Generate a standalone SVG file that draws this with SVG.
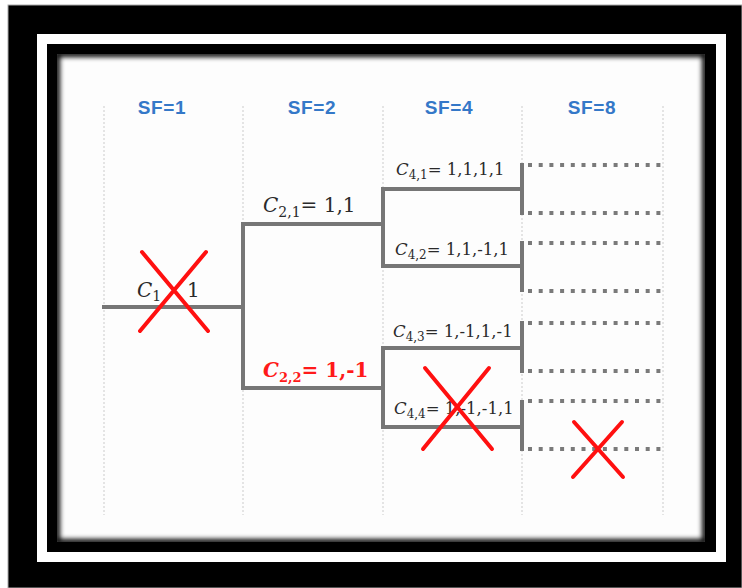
<svg xmlns="http://www.w3.org/2000/svg" width="742" height="588" viewBox="0 0 742 588">
  <defs>
    <style>
      .hdr { font-family: "Liberation Sans", Arial, sans-serif; font-weight: bold; font-size: 19px; fill: #3478c8; letter-spacing: 0.6px; text-anchor: middle; }
      .lbl { font-family: "DejaVu Serif", "Liberation Serif", serif; fill: #2a2a2a; }
      .big { font-size: 20px; }
      .small { font-size: 16.5px; }
      .red { fill: #ff1a1a; font-weight: bold; }
      .ital { font-style: italic; }
      .tree { fill: none; stroke: #767676; stroke-width: 4; stroke-linecap: square; stroke-linejoin: miter; }
      .dots { fill: none; stroke: #7a7a7a; stroke-width: 4; stroke-dasharray: 4 6.7; }
      .guide { fill: none; stroke: #dcdcdc; stroke-width: 1.5; stroke-dasharray: 2 2; }
      .cross { fill: none; stroke: #ff1010; stroke-width: 4; stroke-linecap: round; }
    </style>
    <clipPath id="panelClip">
      <rect x="57" y="54" width="648" height="488"/>
    </clipPath>
    <filter id="soft" x="-5%" y="-5%" width="110%" height="110%">
      <feGaussianBlur stdDeviation="2.5"/>
    </filter>
  </defs>

  <!-- picture frame -->
  <rect x="0" y="0" width="742" height="588" fill="#ffffff"/>
  <rect x="8" y="5" width="734" height="583" fill="#000000" stroke="#aaaaaa" stroke-width="1"/>
  <rect x="37" y="34" width="689" height="528" fill="#ffffff"/>
  <rect x="47" y="44" width="669" height="508" fill="#000000"/>
  <rect x="57" y="54" width="648" height="488" fill="#fdfdfd"/>
  <!-- inner shadow along the panel edge -->
  <g clip-path="url(#panelClip)">
    <rect x="57" y="54" width="648" height="488" fill="none" stroke="#000000" stroke-width="6" filter="url(#soft)"/>
  </g>

  <!-- column guides -->
  <g id="guides">
    <line class="guide" x1="104" y1="106" x2="104" y2="515"/>
    <line class="guide" x1="243" y1="106" x2="243" y2="515"/>
    <line class="guide" x1="383" y1="106" x2="383" y2="515"/>
    <line class="guide" x1="522" y1="106" x2="522" y2="515"/>
    <line class="guide" x1="663" y1="106" x2="663" y2="515"/>
  </g>

  <!-- spreading factor headers -->
  <g id="headers">
    <text class="hdr" x="162" y="114">SF=1</text>
    <text class="hdr" x="312" y="114">SF=2</text>
    <text class="hdr" x="449" y="114">SF=4</text>
    <text class="hdr" x="592" y="114">SF=8</text>
  </g>

  <!-- code tree branches -->
  <g id="connectors">
    <path class="tree" d="M104,307 H243"/>
    <path class="tree" d="M383,224 H243 V388 H383"/>
    <path class="tree" d="M522,189 H383 V266 H522"/>
    <path class="tree" d="M522,348 H383 V427 H522"/>
    <path class="tree" d="M522,165 V213"/>
    <path class="tree" d="M522,243 V290"/>
    <path class="tree" d="M522,323 V371"/>
    <path class="tree" d="M522,402 V449"/>
    <path class="dots" d="M528,165 H664"/>
    <path class="dots" d="M528,213 H664"/>
    <path class="dots" d="M528,243 H664"/>
    <path class="dots" d="M528,291 H664"/>
    <path class="dots" d="M528,323 H664"/>
    <path class="dots" d="M528,371 H664"/>
    <path class="dots" d="M528,401 H664"/>
    <path class="dots" d="M528,449 H664"/>
  </g>

  <!-- code nodes -->
  <g id="c1">
    <text class="lbl big" x="137" y="297"><tspan class="ital">C</tspan><tspan font-size="14" dy="4">1</tspan></text>
    <text class="lbl big" x="187" y="297">1</text>
  </g>
  <g id="c21">
    <text class="lbl big" x="263" y="212"><tspan class="ital">C</tspan><tspan font-size="14" dy="5">2,1</tspan><tspan dy="-5">= 1,1</tspan></text>
  </g>
  <g id="c22">
    <text class="lbl big red" x="263" y="377" font-size="19"><tspan class="ital">C</tspan><tspan font-size="13" dy="5">2,2</tspan><tspan dy="-5">= 1,-1</tspan></text>
  </g>
  <g id="c41">
    <text class="lbl small" x="396" y="175"><tspan class="ital">C</tspan><tspan font-size="12" dy="4">4,1</tspan><tspan dy="-4">= 1,1,1,1</tspan></text>
  </g>
  <g id="c42">
    <text class="lbl small" x="395" y="255"><tspan class="ital">C</tspan><tspan font-size="12" dy="4">4,2</tspan><tspan dy="-4">= 1,1,-1,1</tspan></text>
  </g>
  <g id="c43">
    <text class="lbl small" x="393" y="337"><tspan class="ital">C</tspan><tspan font-size="12" dy="4">4,3</tspan><tspan dy="-4">= 1,-1,1,-1</tspan></text>
  </g>
  <g id="c44">
    <text class="lbl small" x="394" y="414"><tspan class="ital">C</tspan><tspan font-size="12" dy="4">4,4</tspan><tspan dy="-4">= 1,-1,-1,1</tspan></text>
  </g>

  <!-- blocked codes -->
  <g id="crosses">
    <path class="cross" d="M142,252 L208,331 M206,252 L140,331"/>
    <path class="cross" d="M425,368 L492,449 M489,368 L423,449"/>
    <path class="cross" d="M574,422 L623,477 M622,422 L573,477"/>
  </g>
</svg>
